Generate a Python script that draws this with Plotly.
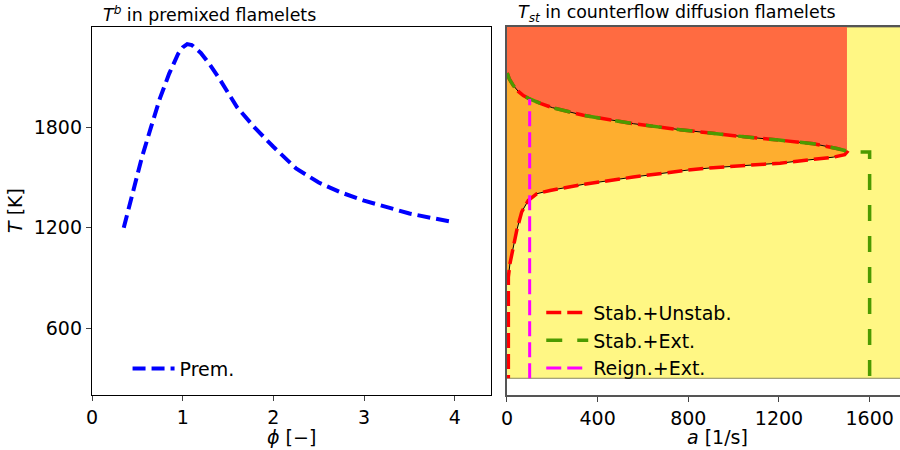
import plotly.graph_objects as go

# Premixed flamelets: burnt-gas temperature vs equivalence ratio
phi = [0.35, 0.45, 0.55, 0.65, 0.75, 0.85, 0.95, 1.0, 1.05, 1.1, 1.2, 1.3, 1.4,
       1.6, 1.8, 2.0, 2.25, 2.5, 2.75, 3.0, 3.25, 3.5, 3.75, 4.0]
T_prem = [1200, 1420, 1620, 1800, 1975, 2120, 2240, 2278, 2298, 2292, 2245, 2175, 2095,
          1920, 1795, 1684, 1555, 1470, 1410, 1362, 1322, 1285, 1258, 1232]

# Counterflow diffusion flamelets: S-curve of stoichiometric temperature vs strain rate
a_scurve = [1, 10, 28, 50, 72, 100, 150, 200, 337, 557, 763, 852, 1058, 1200, 1352, 1455, 1490, 1500,
            1490, 1440, 1205, 910, 800, 557, 337, 190, 131, 94, 65, 43, 28, 13, 6]
T_scurve = [2125, 2090, 2050, 2015, 1990, 1970, 1942, 1918, 1872, 1822, 1786, 1772, 1742, 1724, 1702, 1674, 1662, 1652,
            1637, 1622, 1586, 1559, 1545, 1503, 1459, 1423, 1403, 1363, 1295, 1184, 1084, 985, 905]
n_upper = 18          # points on the stable (upper) branch, up to the turning point

T_MIN = 300           # fresh-mixture temperature
T_TOP = 2400
A_EXT = 1500          # extinction strain rate
A_STAB_EXT = 1600     # strain rate at which the stable solution is extinguished
A_REIGN = 100         # reignition strain rate
A_FAR = 1900

FONT = "DejaVu Sans"
RED_FILL = "#FF6B41"
ORANGE_FILL = "#FEAE2F"
YELLOW_FILL = "#FFF784"

fig = go.Figure()

# ---- left panel ----
fig.add_trace(go.Scatter(
    x=phi, y=T_prem, mode="lines", name="Prem.",
    line=dict(color="#0000FF", width=4, dash="13px,6px"),
    xaxis="x", yaxis="y", legend="legend"))

# ---- right panel: regions ----
upper_a = a_scurve[:n_upper]
upper_T = T_scurve[:n_upper]

fig.add_trace(go.Scatter(
    x=[0, A_FAR, A_FAR, 0], y=[T_MIN, T_MIN, T_TOP, T_TOP],
    fill="toself", fillcolor=YELLOW_FILL, mode="lines",
    line=dict(color="#8a8760", width=1), showlegend=False, hoverinfo="skip",
    xaxis="x2", yaxis="y2"))

fig.add_trace(go.Scatter(
    x=[0] + upper_a + [A_EXT, 0], y=[upper_T[0]] + upper_T + [T_TOP, T_TOP],
    fill="toself", fillcolor=RED_FILL, mode="lines",
    line=dict(color=RED_FILL, width=0), showlegend=False, hoverinfo="skip",
    xaxis="x2", yaxis="y2"))

fig.add_trace(go.Scatter(
    x=[0] + a_scurve + [0], y=[T_scurve[0]] + T_scurve + [T_scurve[-1]],
    fill="toself", fillcolor=ORANGE_FILL, mode="lines",
    line=dict(color=ORANGE_FILL, width=0), showlegend=False, hoverinfo="skip",
    xaxis="x2", yaxis="y2"))

# thin S-curve outline
fig.add_trace(go.Scatter(
    x=a_scurve, y=T_scurve, mode="lines",
    line=dict(color="black", width=1), showlegend=False, hoverinfo="skip",
    xaxis="x2", yaxis="y2"))

# ---- right panel: solution paths ----
fig.add_trace(go.Scatter(
    x=a_scurve + [a_scurve[-1]], y=T_scurve + [T_MIN], mode="lines",
    name="Stab.+Unstab.", line=dict(color="#FF0000", width=3.5, dash="15px,6px"),
    xaxis="x2", yaxis="y2", legend="legend2"))

fig.add_trace(go.Scatter(
    x=upper_a + [A_STAB_EXT, A_STAB_EXT], y=upper_T + [upper_T[-1], T_MIN], mode="lines",
    name="Stab.+Ext.", line=dict(color="#4C9A00", width=3.5, dash="16px,15px"),
    xaxis="x2", yaxis="y2", legend="legend2"))

fig.add_trace(go.Scatter(
    x=[A_REIGN, A_REIGN], y=[T_MIN, T_scurve[a_scurve.index(A_REIGN)]], mode="lines",
    name="Reign.+Ext.", line=dict(color="#FF00FF", width=3, dash="15px,6px"),
    xaxis="x2", yaxis="y2", legend="legend2"))

axis_common = dict(
    showgrid=False, zeroline=False, ticks="outside", ticklen=5, tickwidth=1,
    tickfont=dict(family=FONT, size=19, color="black"))

fig.update_layout(
    width=900, height=450,
    margin=dict(l=92, r=0, t=27, b=55),
    paper_bgcolor="white", plot_bgcolor="white",
    font=dict(family=FONT, size=19, color="black"),
    xaxis=dict(domain=[0, 0.4938], range=[0, 4.4], tickvals=[0, 1, 2, 3, 4],
               showline=True, mirror=True, linecolor="black", linewidth=1.3,
               **axis_common),
    yaxis=dict(range=[200, 2400], tickvals=[600, 1200, 1800],
               showline=True, mirror=True, linecolor="black", linewidth=1.3,
               **axis_common),
    xaxis2=dict(domain=[0.5136, 1], range=[0, 1734], tickvals=[0, 400, 800, 1200, 1600],
                anchor="y2", showline=True, mirror=True, linecolor="#555555", linewidth=2,
                **axis_common),
    yaxis2=dict(domain=[0, 1], range=[200, 2400], anchor="x2", matches="y",
                showline=True, mirror=False, linecolor="#555555", linewidth=2,
                showgrid=False, zeroline=False, ticks="", showticklabels=False),
    legend=dict(x=0.044, y=0.02, xanchor="left", yanchor="bottom", itemwidth=42,
                bgcolor="rgba(0,0,0,0)", font=dict(family=FONT, size=19)),
    legend2=dict(x=0.556, y=0.02, xanchor="left", yanchor="bottom", itemwidth=42,
                 bgcolor="rgba(0,0,0,0)", font=dict(family=FONT, size=19),
                 tracegroupgap=0),
    annotations=[
        dict(text="<i>T</i><sup><i>b</i></sup> in premixed flamelets", x=(101 - 92) / 808, y=1.036,
             xref="paper", yref="paper", xanchor="left", yanchor="middle",
             showarrow=False, font=dict(family=FONT, size=17.4)),
        dict(text="<i>T</i><sub><i>st</i></sub> in counterflow diffusion flamelets",
             x=(516 - 92) / 808, y=1.036, xref="paper", yref="paper",
             xanchor="left", yanchor="middle", showarrow=False, font=dict(family=FONT, size=17.4)),
        dict(text="<i>ϕ</i> [−]", x=(291 - 92) / 808, y=(395 - 437) / 368,
             xref="paper", yref="paper", xanchor="center", yanchor="middle",
             showarrow=False, font=dict(family=FONT, size=19)),
        dict(text="<i>a</i> [1/s]", x=(717 - 92) / 808, y=(395 - 437) / 368,
             xref="paper", yref="paper", xanchor="center", yanchor="middle",
             showarrow=False, font=dict(family=FONT, size=19)),
        dict(text="<i>T</i> [K]", x=(15 - 92) / 808, y=0.5, textangle=-90,
             xref="paper", yref="paper", xanchor="center", yanchor="middle",
             showarrow=False, font=dict(family=FONT, size=19)),
    ],
)

fig.write_html("out.html")
